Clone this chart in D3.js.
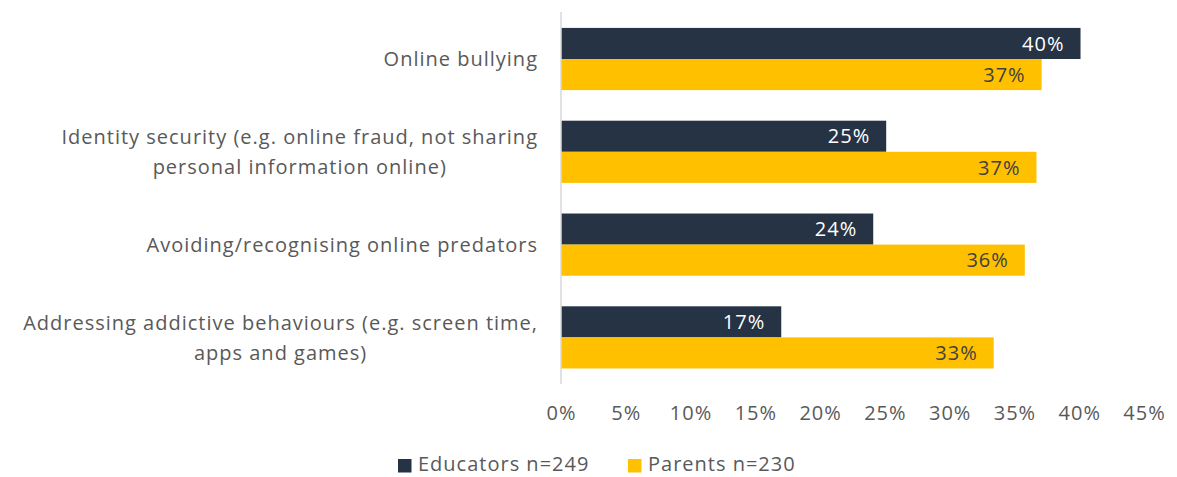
<!DOCTYPE html>
<html><head><meta charset="utf-8">
<script src="https://cdn.jsdelivr.net/npm/d3@7"></script>
<style>body{margin:0;background:#fff;} svg{display:block;font-family:"Open Sans",Lato,sans-serif;letter-spacing:1px;}</style>
</head><body>
<svg id="chart" width="1177" height="477"></svg>
<script>
const categories = [
  ["Online bullying"],
  ["Identity security (e.g. online fraud, not sharing", "personal information online)"],
  ["Avoiding/recognising online predators"],
  ["Addressing addictive behaviours (e.g. screen time,", "apps and games)"]
];
const seriesNames = ["Educators n=249", "Parents n=230"];
const educators = [40.1, 25.1, 24.1, 17.0];
const parents = [37.1, 36.7, 35.8, 33.4];
const tickValues = [0, 5, 10, 15, 20, 25, 30, 35, 40, 45];
const colors = ["#253345", "#FFC000"];
const labelColors = ["#ffffff", "#404040"];

const FONT = "'Open Sans',Lato,sans-serif";
const svg = d3.select("#chart");
const x = d3.scaleLinear().domain([0, 45]).range([561, 1144]);
const y = d3.scaleBand().domain(d3.range(categories.length)).range([12.6, 383.8]).paddingInner(0.33).paddingOuter(0.165);
const ySub = d3.scaleBand().domain([0, 1]).range([0, y.bandwidth()]);
const series = [educators, parents];

// bars
series.forEach((vals, si) => {
  svg.append("g").selectAll("rect").data(vals).join("rect")
    .attr("x", x(0)).attr("y", (d, i) => y(i) + ySub(si))
    .attr("width", d => x(d) - x(0)).attr("height", ySub.bandwidth())
    .attr("fill", colors[si]);
  svg.append("g").selectAll("text").data(vals).join("text")
    .attr("x", d => x(d) - 16).attr("y", (d, i) => y(i) + ySub(si) + ySub.bandwidth() / 2)
    .attr("dy", "0.36em").attr("text-anchor", "end")
    .attr("font-size", 20).attr("fill", labelColors[si])
    .text(d => Math.round(d) + "%");
});

// vertical axis line
svg.append("line").attr("x1", x(0)).attr("x2", x(0)).attr("y1", 12).attr("y2", 384)
  .attr("stroke", "#d9d9d9").attr("stroke-width", 1.5);

// category labels
categories.forEach((lines, i) => {
  const cy = y(i) + y.bandwidth() / 2;
  const lh = 30;
  const t = svg.append("text").attr("text-anchor", "end").attr("font-size", 20).attr("fill", "#595959");
  lines.forEach((ln, j) => {
    t.append("tspan").attr("x", 538).attr("y", cy + (j - (lines.length - 1) / 2) * lh).attr("dy", "0.36em").text(ln);
  });
  if (lines.length > 1) {
    const w0 = t.select("tspan").node().getComputedTextLength();
    t.selectAll("tspan").attr("text-anchor", "middle").attr("x", 538 - w0 / 2);
  }
});

// x axis
const xAxis = d3.axisBottom(x).tickValues(tickValues).tickFormat(d => d + "%").tickSize(0).tickPadding(0);
const gx = svg.append("g").attr("transform", "translate(0,413)").call(xAxis);
gx.select(".domain").remove();
gx.selectAll("text").attr("font-size", 20).attr("fill", "#595959").attr("font-family", FONT).attr("dy", "0.36em").attr("y", 0);

// legend
const legendX = [398, 628];
seriesNames.forEach((n, i) => {
  svg.append("rect").attr("x", legendX[i]).attr("y", 459).attr("width", 13.5).attr("height", 13.5).attr("fill", colors[i]);
  svg.append("text").attr("x", legendX[i] + 20).attr("y", 471)
    .attr("font-size", 20).attr("fill", "#595959").text(n);
});
</script>
</body></html>
